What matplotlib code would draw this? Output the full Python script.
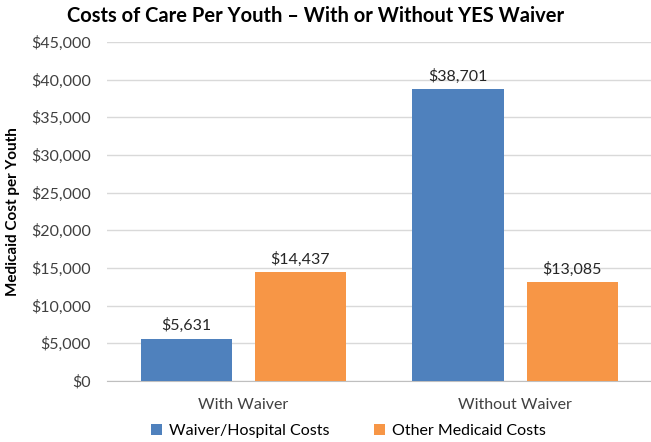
import numpy as np
import matplotlib
matplotlib.use('Agg')
import matplotlib.pyplot as plt
from matplotlib.ticker import FuncFormatter

categories = ['With Waiver', 'Without Waiver']
series_names = ['Waiver/Hospital Costs', 'Other Medicaid Costs']
waiver_hospital = [5631, 38701]
other_medicaid = [14437, 13085]
colors = ['#4F81BD', '#F79646']

plt.rcParams['font.family'] = ['Lato', 'DejaVu Sans']

fig = plt.figure(figsize=(6.51, 4.42), dpi=100)
ax = fig.add_axes([0.165, 0.138, 0.835, 0.767])

x = np.arange(len(categories))
width = 0.336
off = 0.21
for vals, name, c, d in [(waiver_hospital, series_names[0], colors[0], -off),
                         (other_medicaid, series_names[1], colors[1], off)]:
	bars = ax.bar(x + d, vals, width, color=c, label=name, zorder=3)
	for b, v in zip(bars, vals):
		ax.text(b.get_x() + b.get_width() / 2, v + 700, '${:,}'.format(v),
			ha='center', va='bottom', fontsize=11.5, color='#262626')

ax.set_xlim(-0.5, 1.5)
ax.set_ylim(0, 45000)
ax.set_yticks(np.arange(0, 45001, 5000))
ax.yaxis.set_major_formatter(FuncFormatter(lambda v, p: '${:,.0f}'.format(v)))
ax.set_xticks(x)
ax.set_xticklabels(categories)
ax.tick_params(axis='both', length=0, labelsize=11.5, colors='#404040')
ax.tick_params(axis='x', pad=12)
ax.tick_params(axis='y', pad=12)
ax.grid(axis='y', color='#d9d9d9', linewidth=1, zorder=0)
for s in ['left', 'right', 'top']:
	ax.spines[s].set_visible(False)
ax.spines['bottom'].set_color('#bfbfbf')

ax.set_ylabel('Medicaid Cost per Youth', fontsize=11, fontweight='bold', labelpad=8)
fig.text(0.485, 0.963, 'Costs of Care Per Youth \u2013 With or Without YES Waiver',
	ha='center', va='center', fontsize=14.5, fontweight='bold')

fig.legend(loc='center', bbox_to_anchor=(0.535, 0.025), ncol=2, frameon=False,
	fontsize=11.5, handlelength=0.7, handleheight=0.7, columnspacing=2.8, handletextpad=0.4)

plt.savefig('out.png', dpi=100)
